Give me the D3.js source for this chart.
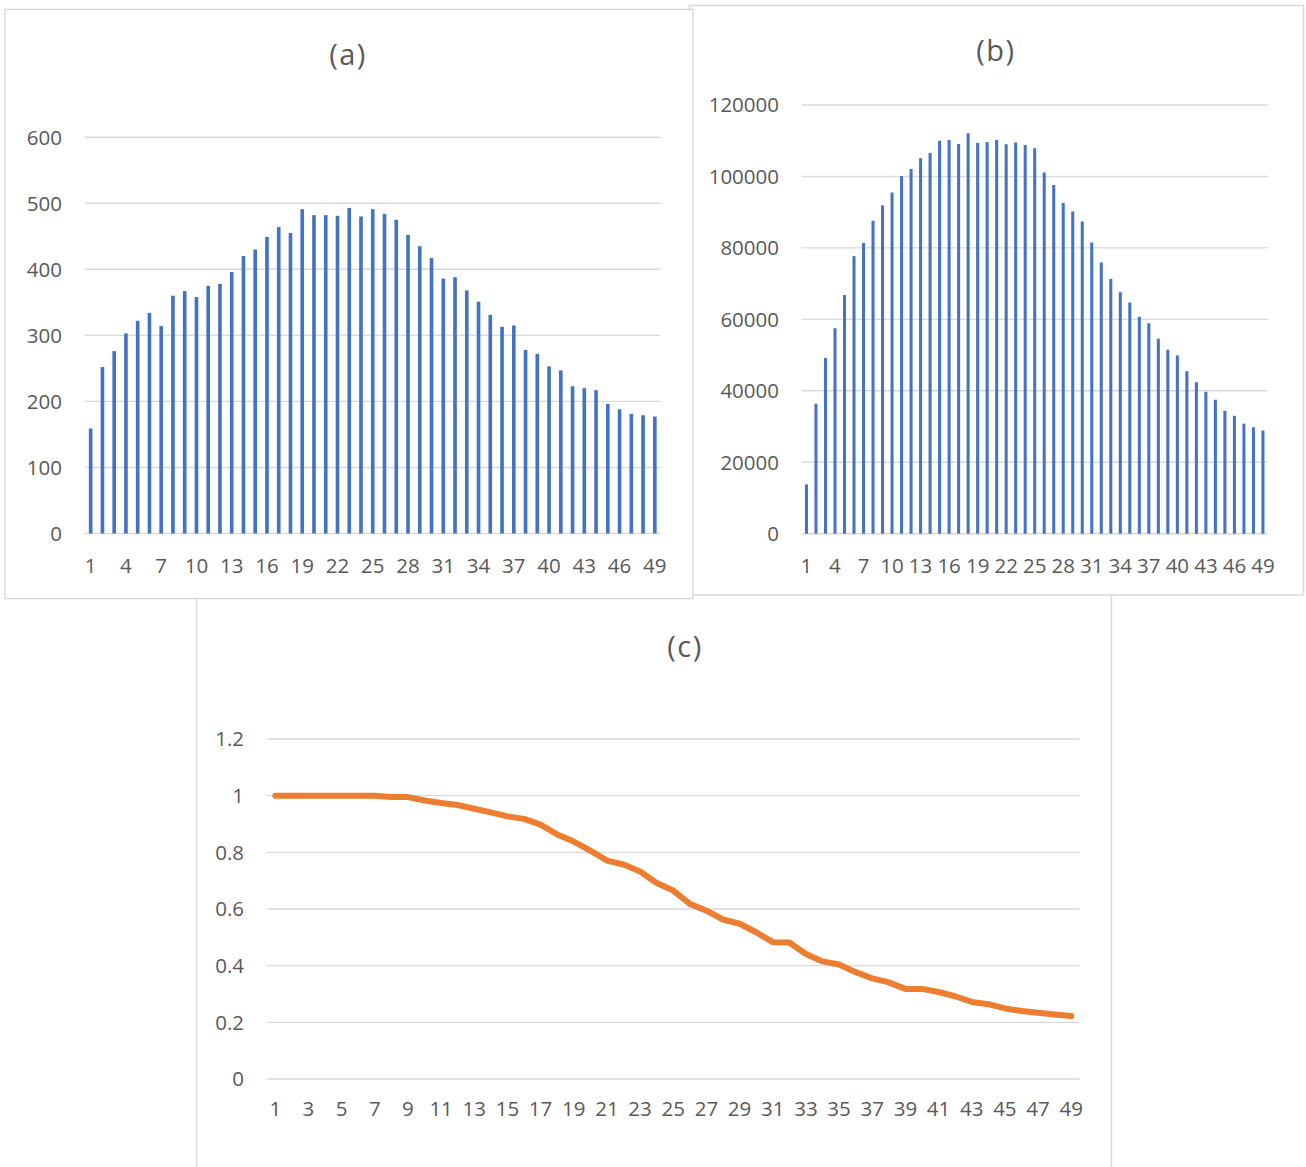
<!DOCTYPE html>
<html>
<head>
<meta charset="utf-8">
<script src="https://cdn.jsdelivr.net/npm/d3@7"></script>
<style>
  html, body { margin: 0; padding: 0; background: #ffffff; }
  svg { display: block; }
  text { font-family: "Open Sans", "Noto Sans", sans-serif; fill: #595959; }
</style>
</head>
<body>
<svg id="fig" width="1306" height="1167"></svg>
<script>
// Categories 1..49 shared by all three panels
const categories = d3.range(1, 50);

// Panel (a) values
const seriesA = [159, 252, 276, 303, 322, 334, 314, 360, 367, 358,
                 375, 378, 396, 420, 430, 449, 464, 455, 491, 482,
                 482, 481, 493, 480, 491, 484, 475, 452, 435, 417,
                 386, 388, 368, 351, 331, 313, 315, 278, 272, 253,
                 247, 223, 220, 217, 196, 188, 181, 179, 177];

// Panel (b) values
const seriesB = [13800, 36400, 49200, 57500, 66800, 77700, 81400, 87600, 91900, 95500,
                 100100, 102100, 105100, 106600, 110000, 110200, 109100, 112100, 109400, 109600,
                 110200, 109000, 109500, 108800, 107900, 101100, 97600, 92600, 90200, 87400,
                 81500, 75900, 71300, 67600, 64700, 60700, 58900, 54600, 51500, 49900,
                 45500, 42400, 39700, 37500, 34400, 33000, 30800, 29800, 28900];

// Panel (c) values
const seriesC = [1.0, 1.0, 1.0, 1.0, 1.0, 1.0, 1.0, 0.995, 0.995, 0.983,
                 0.974, 0.967, 0.954, 0.941, 0.927, 0.918, 0.898, 0.863, 0.838, 0.806,
                 0.771, 0.757, 0.732, 0.692, 0.665, 0.618, 0.594, 0.563, 0.548, 0.518,
                 0.483, 0.482, 0.441, 0.415, 0.404, 0.377, 0.355, 0.341, 0.318, 0.318,
                 0.307, 0.292, 0.272, 0.264, 0.249, 0.240, 0.234, 0.228, 0.222];

// Tick labels
const ticksA = [0, 100, 200, 300, 400, 500, 600];
const ticksB = [0, 20000, 40000, 60000, 80000, 100000, 120000];
const ticksC = [0, 0.2, 0.4, 0.6, 0.8, 1, 1.2];
const xTicksAB = categories.filter(d => (d - 1) % 3 === 0);
const xTicksC = categories.filter(d => (d - 1) % 2 === 0);

const svg = d3.select("#fig");
const GRID = "#d9d9d9";
const BAR = "#4472c4";
const LINE = "#ed7d31";

function panelFrame(box) {
  const g = svg.append("g");
  g.append("rect")
    .attr("x", box.x).attr("y", box.y)
    .attr("width", box.w).attr("height", box.h)
    .attr("fill", "#ffffff")
    .attr("stroke", GRID).attr("stroke-width", 1.5);
  return g;
}

function axes(g, cfg) {
  const { x, y, yTicks, xTicks, yLabelX, xLabelY, fmt } = cfg;
  const [x0, x1] = x.range();
  // horizontal gridlines
  g.append("g").selectAll("line").data(yTicks).join("line")
    .attr("x1", x0).attr("x2", x1)
    .attr("y1", d => y(d)).attr("y2", d => y(d))
    .attr("stroke", GRID).attr("stroke-width", 1.4);
  // y tick labels
  g.append("g").selectAll("text").data(yTicks).join("text")
    .attr("x", yLabelX).attr("y", d => y(d))
    .attr("dy", "0.36em")
    .attr("text-anchor", "end")
    .style("font-size", "20.5px")
    .text(fmt);
  // category labels
  const cx = d => x(d) + x.bandwidth() / 2;
  g.append("g").selectAll("text").data(xTicks).join("text")
    .attr("x", cx).attr("y", xLabelY)
    .attr("text-anchor", "middle")
    .style("font-size", "20.5px")
    .text(d => d);
}

function title(g, label, cx, by) {
  g.append("text")
    .attr("x", cx).attr("y", by)
    .attr("text-anchor", "middle")
    .style("font-size", "29px")
    .style("letter-spacing", "1.5px")
    .text(label);
}

function bars(g, x, y, values) {
  g.append("g").selectAll("rect").data(values).join("rect")
    .attr("x", (d, i) => x(categories[i]))
    .attr("width", x.bandwidth())
    .attr("y", d => y(d))
    .attr("height", d => y(0) - y(d))
    .attr("fill", BAR);
}

// ---- Panel (c): line chart (drawn first, sits behind the upper panels)
{
  const g = panelFrame({ x: 196.5, y: 594, w: 915, h: 600 });
  const x = d3.scaleBand().domain(categories).range([267, 1079.5]).padding(0);
  const y = d3.scaleLinear().domain([0, 1.2]).range([1079, 739]);
  axes(g, { x, y, yTicks: ticksC, xTicks: xTicksC, yLabelX: 244, xLabelY: 1116,
            fmt: d => String(d) });
  const line = d3.line()
    .x((d, i) => x(categories[i]) + x.bandwidth() / 2)
    .y(d => y(d));
  g.append("path").datum(seriesC)
    .attr("d", line)
    .attr("fill", "none")
    .attr("stroke", LINE).attr("stroke-width", 6)
    .attr("stroke-linejoin", "round").attr("stroke-linecap", "round");
  title(g, "(c)", 685, 657);
}

// ---- Panel (b): bar chart
{
  const g = panelFrame({ x: 689.5, y: 5.5, w: 614, h: 589.5 });
  const x = d3.scaleBand().domain(categories).range([801.7, 1267.7]).paddingInner(0.68).paddingOuter(0.34);
  const y = d3.scaleLinear().domain([0, 120000]).range([533.7, 105]);
  axes(g, { x, y, yTicks: ticksB, xTicks: xTicksAB, yLabelX: 779, xLabelY: 573,
            fmt: d => String(d) });
  bars(g, x, y, seriesB);
  title(g, "(b)", 996, 61);
}

// ---- Panel (a): bar chart (top-most)
{
  const g = panelFrame({ x: 5, y: 9.5, w: 688, h: 589 });
  const x = d3.scaleBand().domain(categories).range([84.8, 660.7]).paddingInner(0.69).paddingOuter(0.345);
  const y = d3.scaleLinear().domain([0, 600]).range([533.5, 137.2]);
  axes(g, { x, y, yTicks: ticksA, xTicks: xTicksAB, yLabelX: 62, xLabelY: 573,
            fmt: d => String(d) });
  bars(g, x, y, seriesA);
  title(g, "(a)", 348, 65);
}
</script>
</body>
</html>
